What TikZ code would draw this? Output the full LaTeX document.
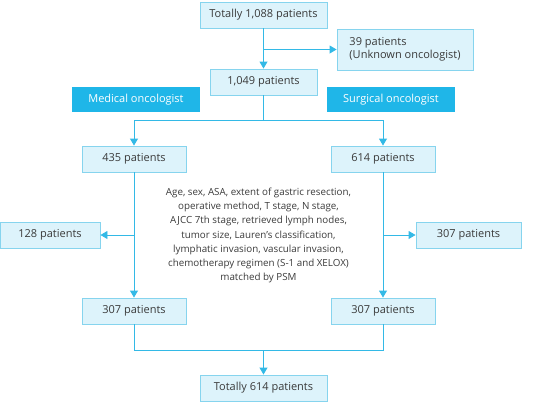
\documentclass[tikz,border=0pt]{standalone}
\usepackage{fontspec}
\setmainfont{Open Sans}
\usetikzlibrary{arrows.meta}
\definecolor{boxfill}{HTML}{DDF3FB}
\definecolor{boxline}{HTML}{86D4EE}
\definecolor{arrowc}{HTML}{33B9E6}
\definecolor{headfill}{HTML}{1FB6E8}
\definecolor{txt}{HTML}{3A3A3A}
\tikzset{
  pbox/.style={draw=boxline, fill=boxfill, line width=0.9pt, minimum height=26pt, inner sep=0pt, text=txt, font=\fontsize{11}{13}\selectfont},
  hbox/.style={fill=headfill, minimum height=25pt, minimum width=128pt, inner sep=0pt, text=white, font=\fontsize{11}{13}\selectfont},
  conn/.style={draw=arrowc, line width=0.9pt},
  arr/.style={conn, -{Triangle[width=8pt,length=7pt]}},
}
\begin{document}
\begin{tikzpicture}[x=1pt,y=-1pt]
\useasboundingbox (0,0) rectangle (533,405);
\node[pbox, minimum width=127pt] (top) at (263.5,15) {Totally 1,088 patients};
\node[pbox, minimum width=136pt, minimum height=41pt, align=left] (unk) at (405,49.5) {39 patients\\(Unknown oncologist)};
\node[pbox, minimum width=107pt] (n1049) at (263.5,82) {1,049 patients};
\node[hbox] (med) at (136,99.5) {Medical oncologist};
\node[hbox] (sur) at (391,99.5) {Surgical oncologist};
\node[pbox, minimum width=104pt] (m435) at (134,159) {435 patients};
\node[pbox, minimum width=104pt] (s614) at (383,159) {614 patients};
\node[pbox, minimum width=100pt] (m128) at (50,235) {128 patients};
\node[pbox, minimum width=105pt] (s307x) at (468.5,235) {307 patients};
\node[pbox, minimum width=104pt] (m307) at (134,311) {307 patients};
\node[pbox, minimum width=104pt] (s307) at (383,311) {307 patients};
\node[pbox, minimum width=127pt] (bot) at (263.5,388) {Totally 614 patients};
\node[align=center, text=txt, font=\fontsize{9.8}{14.3}\selectfont, inner sep=0pt] (psm) at (258.5,235.5) {Age, sex, ASA, extent of gastric resection,\\operative method, T stage, N stage,\\AJCC 7th stage, retrieved lymph nodes,\\tumor size, Lauren's classification,\\lymphatic invasion, vascular invasion,\\chemotherapy regimen (S-1 and XELOX)\\matched by PSM};
% top flow
\draw[arr] (top.south) -- (n1049.north);
\coordinate (b1) at (top.south |- unk.west);
\draw[arr] (b1) -- (unk.west);
% split
\coordinate (sp) at (263.5,120);
\draw[conn] (n1049.south) -- (sp);
\draw[arr] (sp) -| (m435.north);
\draw[arr] (sp) -| (s614.north);
% left column
\draw[arr] (m435.south) -- (m307.north);
\coordinate (bl) at (m435.south |- m128.east);
\draw[arr] (bl) -- (m128.east);
% right column
\draw[arr] (s614.south) -- (s307.north);
\coordinate (br) at (s614.south |- s307x.west);
\draw[arr] (br) -- (s307x.west);
% merge
\coordinate (mg) at (263.5,350);
\draw[conn] (m307.south) |- (mg);
\draw[conn] (s307.south) |- (mg);
\draw[arr] (mg) -- (bot.north);
\end{tikzpicture}
\end{document}
